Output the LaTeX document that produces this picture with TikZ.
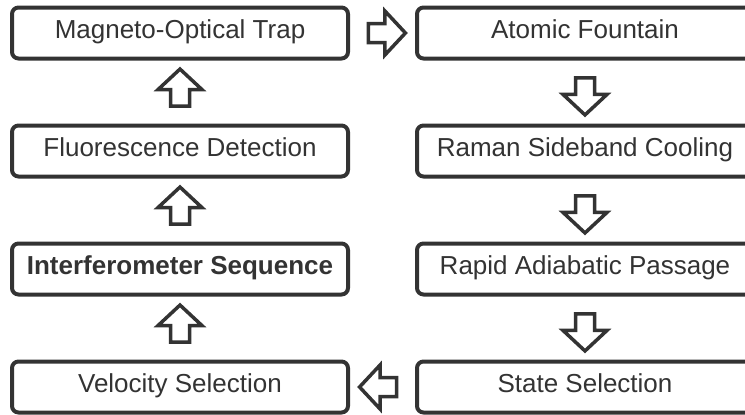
\documentclass[tikz,border=0pt]{standalone}
\usepackage{fontspec}
\setmainfont{Liberation Sans}
\usetikzlibrary{positioning,shapes.arrows,calc}
\definecolor{boxgray}{HTML}{333333}

\begin{document}
\begin{tikzpicture}[x=1pt,y=1pt]
    \tikzstyle{every node} = [font=\fontsize{26}{30}\selectfont, text=boxgray]
    \tikzstyle{block} = [draw=boxgray, line width=4pt, rectangle, fill=white, rounded corners=6.5pt, outer sep=0pt, minimum width=336pt, minimum height=51pt, text height=18pt, text depth=7pt]
    \tikzstyle{flowarrow} = [draw=boxgray, line width=3.5pt, fill=white, single arrow, single arrow head extend=12.5pt, single arrow tip angle=94, inner sep=7.75pt, minimum height=37pt, outer sep=0pt]
    \clip (0,0) rectangle (745,-415);
    % place nodes
    \node[block] (mot) at (180,-33) {Magneto-Optical Trap};
    \node[block, below=67pt of mot] (fluorescence) {Fluorescence Detection};
    \node[block, below=67pt of fluorescence] (interferometer) {\textbf{Interferometer Sequence}};
    \node[block, below=67pt of interferometer] (velocity) {Velocity Selection};
    \node[block, right=69pt of mot] (fountain) {Atomic Fountain};
    \node[block, below=67pt of fountain] (raman) {Raman Sideband Cooling};
    \node[block, below=67pt of raman] (rap) {Rapid Adiabatic Passage};
    \node[block, below=67pt of rap] (stateselect) {State Selection};

    % Connections
    \node[flowarrow] at ($(mot.east)!0.5!(fountain.west)$) {};
    \node[flowarrow, rotate=-90] at ($(fountain.south)!0.5!(raman.north)$) {};
    \node[flowarrow, rotate=-90] at ($(raman.south)!0.5!(rap.north)$) {};
    \node[flowarrow, rotate=-90] at ($(rap.south)!0.5!(stateselect.north)$) {};
    \node[flowarrow, rotate=180] at ($(stateselect.west)!0.5!(velocity.east)$) {};
    \node[flowarrow, rotate=90] at ($(velocity.north)!0.5!(interferometer.south)$) {};
    \node[flowarrow, rotate=90] at ($(interferometer.north)!0.5!(fluorescence.south)$) {};
    \node[flowarrow, rotate=90] at ($(fluorescence.north)!0.5!(mot.south)$) {};

\end{tikzpicture}
\end{document}
